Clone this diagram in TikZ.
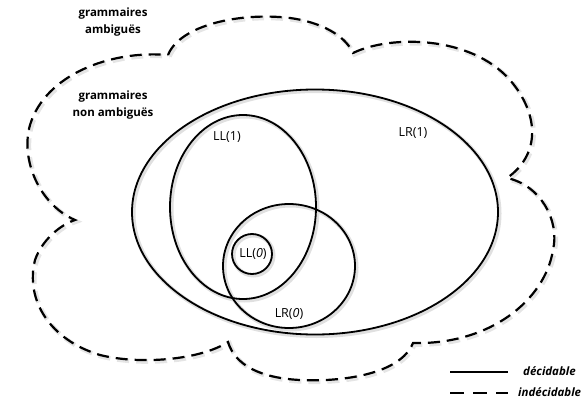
\documentclass[tikz,border=0pt]{standalone}
\usepackage{fontspec}
\setmainfont{Open Sans}
\usetikzlibrary{shapes.geometric}
\begin{document}
\begin{tikzpicture}[x=1pt,y=-1pt,
  setline/.style={line width=1.8pt,black},
  cloudline/.style={line width=2.2pt,black,dash pattern=on 12pt off 7pt,line join=miter},
  set/.style={ellipse,draw,setline,inner sep=0pt,fill=none},
  shadowset/.style={ellipse,draw=black!12,line width=4pt,inner sep=0pt},
  lbl/.style={font=\fontsize{12.5}{14}\selectfont,inner sep=0pt},
  blbl/.style={font=\bfseries\fontsize{11.5}{16.5}\selectfont,inner sep=0pt,align=center},
]
\useasboundingbox (0,0) rectangle (585,401);
% cloud (indecidable region)
\def\cloudpath{(168,55) .. controls (180,25) and (240,12) .. (290,18)
  .. controls (320,22) and (345,35) .. (353,53)
  .. controls (390,35) and (470,35) .. (510,80)
  .. controls (540,115) and (540,155) .. (507,178)
  .. controls (540,185) and (560,220) .. (553,250)
  .. controls (545,300) and (490,345) .. (413,343)
  .. controls (400,375) and (340,382) .. (300,380)
  .. controls (260,378) and (235,365) .. (228,342)
  .. controls (200,360) and (140,365) .. (100,355)
  .. controls (50,340) and (25,300) .. (35,260)
  .. controls (42,240) and (60,225) .. (75,220)
  .. controls (40,205) and (20,160) .. (30,125)
  .. controls (45,75) and (110,50) .. (168,55)}
\begin{scope}[shift={(1.5,1.5)}]
\draw[line width=4.5pt,black!10,dash pattern=on 12pt off 7pt] \cloudpath;
\node[shadowset,minimum width=366pt,minimum height=245pt] (slr1) at (315,212) {};
\node[shadowset,minimum width=146pt,minimum height=184pt] (sll1) at (243,207) {};
\node[shadowset,minimum width=132pt,minimum height=124pt] (slr0) at (289,266) {};
\node[shadowset,minimum width=40pt,minimum height=40pt] (sll0) at (252,254) {};
\end{scope}
\draw[cloudline] \cloudpath;
% sets
\node[set,minimum width=366pt,minimum height=245pt] (lr1) at (315,212) {};
\node[set,minimum width=146pt,minimum height=184pt] (ll1) at (243,207) {};
\node[set,minimum width=132pt,minimum height=124pt] (lr0) at (289,266) {};
\node[set,minimum width=40pt,minimum height=40pt] (ll0) at (252,254) {};
% labels
\node[lbl] (tlr1) at (413,133) {LR(1)};
\node[lbl] (tll1) at (227,137) {LL(1)};
\node[lbl] (tll0) at (253,254) {LL(\textit{0})};
\node[lbl] (tlr0) at (289,314) {LR(\textit{0})};
\node[blbl] (amb) at (113,22) {grammaires\\ambiguës};
\node[blbl] (namb) at (113,105) {grammaires\\non ambiguës};
% legend
\coordinate (s1) at (450,372);
\coordinate (s2) at (508,372);
\coordinate (d1) at (450,393);
\coordinate (d2) at (508,393);
\draw[setline] (s1) -- (s2);
\draw[line width=2pt,dash pattern=on 14pt off 9pt] (d1) -- (d2);
\node[blbl,font=\bfseries\itshape\fontsize{11.5}{13}\selectfont,anchor=west] (dec) at (523,371) {décidable};
\node[blbl,font=\bfseries\itshape\fontsize{11.5}{13}\selectfont,anchor=west] (indec) at (518,392) {indécidable};
\end{tikzpicture}
\end{document}
